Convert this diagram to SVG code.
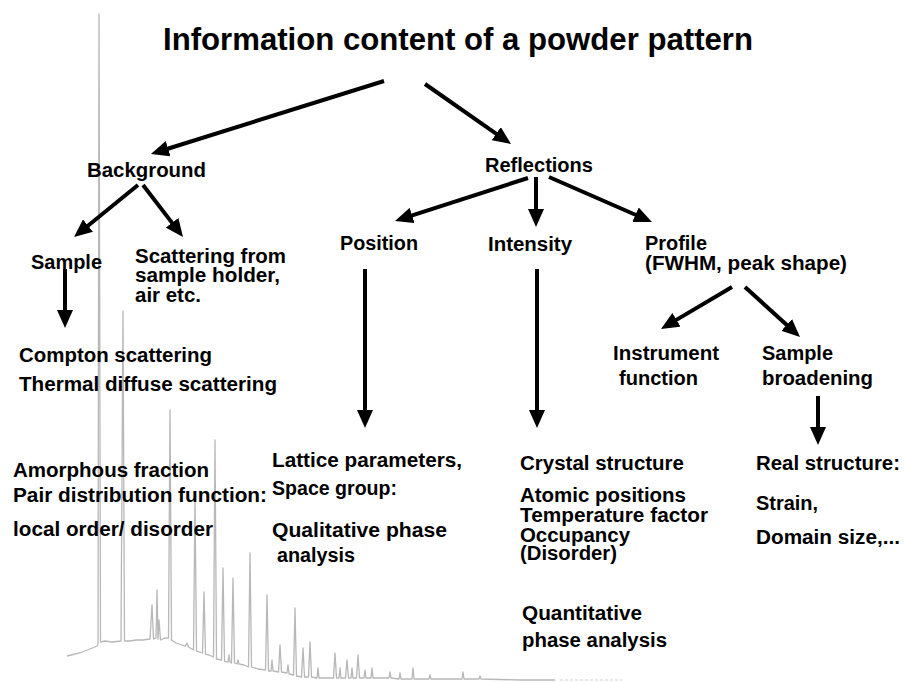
<svg xmlns="http://www.w3.org/2000/svg" width="905" height="684" viewBox="0 0 905 684">
<style>
text{font-family:"Liberation Sans",Arial,sans-serif;font-weight:bold;fill:#000;font-size:20px}
.title{font-size:32px}
.hdr{font-size:21px}
.conn{stroke:#000;stroke-width:4;fill:none}
.pattern{stroke:#b8b8b8;stroke-width:1.3;fill:none;stroke-linejoin:round}
</style>
<defs>
<marker id="ah" viewBox="0 0 18 16" markerWidth="18" markerHeight="16" refX="8" refY="8" orient="auto" markerUnits="userSpaceOnUse">
<path d="M0,0 L18,8 L0,16 z" fill="#000"/>
</marker>
</defs>
<rect width="905" height="684" fill="#fff"/>
<g id="powder-pattern">
<path class="pattern" d="M67,656 L75,654 L82,652 L90,649 L97,646 L98,644 L99,14 L100.5,642 L105,641 L112,642 L121,641 L123,311 L124.5,641 L130,641 L136,640 L143,640 L150,639 L152,605 L153.5,639 L156,638 L157,590 L158,639 L159,620 L160.5,640 L165,638 L168.5,638 L170,410 L171.5,640 L176,643 L182,645 L185.5,646 L187,643 L188.5,647 L193.5,650 L195,500 L196.5,651 L200,652 L202.5,653 L204,592 L205.5,654 L209,655 L213.5,657 L215,440 L216.5,659 L221.5,660 L223,568 L224.5,661 L228,662 L229,655 L230,662 L231.5,663 L233,578 L234.5,663 L237,664 L238,660 L239,664 L244,665 L248.5,667 L250,553 L251.5,667 L258,669 L265.5,670 L267,595 L268.5,671 L271,671 L272,660 L273,671 L278.5,672 L280,645 L281.5,672 L287,673 L288,665 L289,674 L293.5,675 L295,608 L296.5,676 L301.5,677 L303,648 L304.5,677 L308.5,677 L310,642 L311.5,677 L317,678 L318,668 L319,678 L333.5,678 L335,653 L336.5,678 L339,678 L340,668 L341,678 L345.5,678 L347,660 L348.5,678 L351,678 L352,668 L353,678 L356.5,678 L358,655 L359.5,678 L364,678 L365,670 L366,678 L371,678 L372,668 L373,678 L389,678 L390,672 L391,678 L399,679 L400,673 L401,679 L412,679 L413,668 L414,679 L429,679 L430,675 L431,679 L462,679 L463,672 L464,679 L479,679 L480,676 L481,679 L520,680 L555,680"/>
<path d="M560,680 L622,680" stroke="#d0d0d0" stroke-width="1.2" stroke-dasharray="3,2" fill="none"/>
</g>
<g id="connectors">
<line class="conn" x1="384" y1="81" x2="160.5" y2="151" marker-end="url(#ah)"/>
<line class="conn" x1="425" y1="84" x2="502.8" y2="138.3" marker-end="url(#ah)"/>
<line class="conn" x1="138" y1="185" x2="81.8" y2="230.7" marker-end="url(#ah)"/>
<line class="conn" x1="143" y1="185" x2="176.9" y2="229.1" marker-end="url(#ah)"/>
<line class="conn" x1="65" y1="269" x2="65" y2="318" marker-end="url(#ah)"/>
<line class="conn" x1="528" y1="178" x2="404.5" y2="217.9" marker-end="url(#ah)"/>
<line class="conn" x1="536" y1="177" x2="536" y2="217" marker-end="url(#ah)"/>
<line class="conn" x1="549" y1="177" x2="642.8" y2="218" marker-end="url(#ah)"/>
<line class="conn" x1="365" y1="269" x2="365" y2="418" marker-end="url(#ah)"/>
<line class="conn" x1="537" y1="269" x2="537" y2="418" marker-end="url(#ah)"/>
<line class="conn" x1="732" y1="287" x2="669.6" y2="323.9" marker-end="url(#ah)"/>
<line class="conn" x1="745" y1="287" x2="792.6" y2="330.3" marker-end="url(#ah)"/>
<line class="conn" x1="818" y1="396" x2="818" y2="435" marker-end="url(#ah)"/>
</g>
<g id="title"><text class="title" x="163" y="50" textLength="590" lengthAdjust="spacingAndGlyphs">Information content of a powder pattern</text></g>
<g id="background"><text class="hdr" x="87" y="177" textLength="119" lengthAdjust="spacingAndGlyphs">Background</text></g>
<g id="reflections"><text class="hdr" x="485" y="172" textLength="108" lengthAdjust="spacingAndGlyphs">Reflections</text></g>
<g id="bg-sample"><text x="31" y="269" textLength="71" lengthAdjust="spacingAndGlyphs">Sample</text></g>
<g id="bg-scattering">
<text x="135" y="263" textLength="151" lengthAdjust="spacingAndGlyphs">Scattering from</text>
<text x="135" y="282" textLength="145" lengthAdjust="spacingAndGlyphs">sample holder,</text>
<text x="135" y="302" textLength="66" lengthAdjust="spacingAndGlyphs">air etc.</text>
</g>
<g id="compton">
<text x="19" y="362" textLength="193" lengthAdjust="spacingAndGlyphs">Compton scattering</text>
<text x="19" y="391" textLength="258" lengthAdjust="spacingAndGlyphs">Thermal diffuse scattering</text>
</g>
<g id="amorphous">
<text x="13" y="477" textLength="196" lengthAdjust="spacingAndGlyphs">Amorphous fraction</text>
<text x="13" y="502" textLength="254" lengthAdjust="spacingAndGlyphs">Pair distribution function:</text>
<text x="13" y="536" textLength="200" lengthAdjust="spacingAndGlyphs">local order/ disorder</text>
</g>
<g id="position"><text x="340" y="250" textLength="78" lengthAdjust="spacingAndGlyphs">Position</text></g>
<g id="intensity"><text x="488" y="251" textLength="84" lengthAdjust="spacingAndGlyphs">Intensity</text></g>
<g id="profile">
<text x="645" y="250" textLength="62" lengthAdjust="spacingAndGlyphs">Profile</text>
<text x="645" y="270" textLength="202" lengthAdjust="spacingAndGlyphs">(FWHM, peak shape)</text>
</g>
<g id="instrument">
<text x="613" y="360" textLength="106" lengthAdjust="spacingAndGlyphs">Instrument</text>
<text x="619" y="385" textLength="79" lengthAdjust="spacingAndGlyphs">function</text>
</g>
<g id="sample-broadening">
<text x="762" y="360" textLength="71" lengthAdjust="spacingAndGlyphs">Sample</text>
<text x="762" y="385" textLength="111" lengthAdjust="spacingAndGlyphs">broadening</text>
</g>
<g id="lattice">
<text x="272" y="467" textLength="190" lengthAdjust="spacingAndGlyphs">Lattice parameters,</text>
<text x="272" y="495" textLength="125" lengthAdjust="spacingAndGlyphs">Space group:</text>
<text x="272" y="537" textLength="175" lengthAdjust="spacingAndGlyphs">Qualitative phase</text>
<text x="277" y="562" textLength="78" lengthAdjust="spacingAndGlyphs">analysis</text>
</g>
<g id="crystal">
<text x="520" y="470" textLength="164" lengthAdjust="spacingAndGlyphs">Crystal structure</text>
<text x="520" y="502" textLength="166" lengthAdjust="spacingAndGlyphs">Atomic positions</text>
<text x="520" y="522" textLength="188" lengthAdjust="spacingAndGlyphs">Temperature factor</text>
<text x="520" y="542" textLength="110" lengthAdjust="spacingAndGlyphs">Occupancy</text>
<text x="520" y="560" textLength="97" lengthAdjust="spacingAndGlyphs">(Disorder)</text>
</g>
<g id="quantitative">
<text x="522" y="620" textLength="120" lengthAdjust="spacingAndGlyphs">Quantitative</text>
<text x="522" y="647" textLength="145" lengthAdjust="spacingAndGlyphs">phase analysis</text>
</g>
<g id="real-structure">
<text x="756" y="470" textLength="144" lengthAdjust="spacingAndGlyphs">Real structure:</text>
<text x="756" y="510" textLength="62" lengthAdjust="spacingAndGlyphs">Strain,</text>
<text x="756" y="544" textLength="144" lengthAdjust="spacingAndGlyphs">Domain size,...</text>
</g>
</svg>
